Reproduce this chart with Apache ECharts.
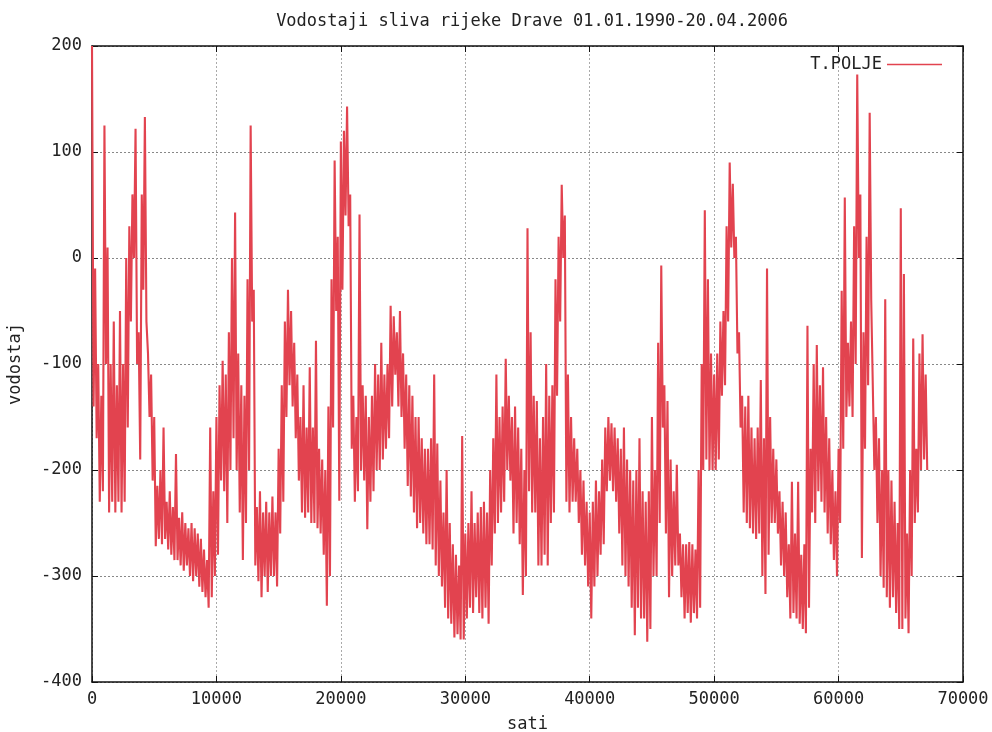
<!DOCTYPE html>
<html>
<head>
<meta charset="utf-8">
<script src="https://cdn.jsdelivr.net/npm/echarts@6/dist/echarts.min.js"></script>
<style>
  html, body { margin: 0; padding: 0; background: #fff; }
  #chart { width: 992px; height: 732px; }
</style>
</head>
<body>
<div id="chart"></div>
<script>
(function() {
  var chart = echarts.init(document.getElementById('chart'));

  // naslov i oznake
  var naslov = 'Vodostaji sliva rijeke Drave 01.01.1990-20.04.2006';
  var nazivSerije = 'T.POLJE';
  var osX = 'sati';
  var osY = 'vodostaj';

  // ocitano sa slike u koracima od 250 sati: najniza i najvisa vrijednost u koraku
  var korak = 250;

  var donja = [
    -140, -170, -230, -220,
    -100, -240, -230, -240,
    -230, -240, -230, -160,
    -60, 0, -100, -190,
    -30, -60, -150, -210,
    -272, -265, -270, -265,
    -275, -280, -285, -285,
    -290, -295, -290, -300,
    -305, -300, -310, -315,
    -320, -330, -320, -300,
    -280, -210, -220, -250,
    -200, -170, -200, -240,
    -285, -250, -200, -60,
    -290, -305, -320, -300,
    -315, -300, -300, -310,
    -260, -230, -150, -120,
    -140, -170, -210, -240,
    -245, -240, -250, -250,
    -255, -260, -280, -328,
    -300, -160, -50, -229,
    -30, 40, 30, -180,
    -230, -220, -200, -210,
    -256, -230, -220, -200,
    -200, -190, -180, -170,
    -140, -110, -140, -150,
    -180, -215, -225, -240,
    -255, -250, -260, -270,
    -270, -275, -290, -300,
    -310, -330, -340, -345,
    -358, -355, -360, -360,
    -340, -330, -335, -320,
    -335, -340, -330, -345,
    -290, -260, -250, -240,
    -230, -200, -210, -260,
    -250, -270, -318, -300,
    -220, -240, -240, -290,
    -290, -280, -290, -250,
    -240, -130, -60, 0,
    -230, -240, -230, -230,
    -250, -280, -290, -310,
    -340, -310, -300, -280,
    -270, -220, -210, -220,
    -230, -260, -290, -300,
    -310, -330, -356, -330,
    -340, -340, -362, -350,
    -300, -300, -250, -160,
    -260, -320, -300, -290,
    -290, -320, -340, -335,
    -344, -335, -340, -330,
    -200, -190, -200, -200,
    -200, -190, -130, -120,
    -60, 10, 0, -90,
    -160, -240, -250, -255,
    -260, -265, -260, -300,
    -317, -280, -250, -250,
    -260, -290, -300, -320,
    -340, -335, -340, -345,
    -350, -354, -330, -240,
    -250, -220, -230, -240,
    -260, -270, -285, -300,
    -250, -180, -150, -140,
    -150, -100, 0, -283,
    -180, -120, -40, -200,
    -250, -300, -311, -320,
    -330, -320, -335, -350,
    -350, -340, -354, -300,
    -250, -240, -200, -190,
    -200
  ];

  var gornja = [
    200, -10, -100, -130,
    125, 10, -100, -60,
    -120, -50, -100, 0,
    30, 60, 122, -70,
    60, 133, -90, -110,
    -150, -215, -200, -160,
    -230, -220, -235, -185,
    -245, -240, -250, -255,
    -250, -255, -260, -265,
    -275, -285, -160, -220,
    -150, -120, -97, -110,
    -70, 0, 43, -90,
    -120, -130, -20, 125,
    -30, -235, -220, -240,
    -230, -240, -225, -240,
    -180, -120, -60, -30,
    -50, -80, -110, -150,
    -120, -160, -103, -160,
    -78, -180, -190, -200,
    -140, -20, 92, 20,
    110, 120, 143, 60,
    -130, -150, 41, -120,
    -130, -150, -130, -100,
    -110, -80, -110, -100,
    -45, -55, -70, -50,
    -90, -110, -120, -130,
    -150, -150, -170, -180,
    -180, -170, -110, -175,
    -210, -240, -200, -250,
    -270, -280, -290, -168,
    -260, -250, -220, -250,
    -240, -235, -230, -240,
    -200, -170, -110, -150,
    -140, -95, -130, -150,
    -140, -160, -180, -200,
    28, -70, -130, -135,
    -170, -150, -100, -130,
    -120, -20, 20, 69,
    40, -110, -150, -170,
    -180, -200, -210, -230,
    -240, -230, -210, -220,
    -190, -160, -150, -156,
    -160, -170, -180, -160,
    -190, -200, -210, -200,
    -170, -220, -230, -220,
    -150, -200, -80, -7,
    -120, -135, -190, -220,
    -195, -260, -270, -270,
    -268, -270, -275, -200,
    -100, 45, -20, -90,
    -110, -90, -60, -50,
    30, 90, 70, 20,
    -70, -130, -140, -130,
    -160, -170, -160, -115,
    -170, -10, -150, -180,
    -190, -220, -230, -240,
    -270, -211, -260, -211,
    -280, -270, -64, -180,
    -100, -82, -120, -103,
    -150, -170, -200, -220,
    -180, -31, 57, -80,
    -60, 30, 173, 60,
    -70, 20, 137, -40,
    -150, -170, -200, -39,
    -200, -210, -230, -250,
    47, -15, -260, -200,
    -76, -180, -90, -72,
    -110
  ];

  // cik-cak izmedu najvise i najnize vrijednosti unutar svakog koraka
  var podaci = [];
  for (var i = 0; i < donja.length; i++) {
    podaci.push([i * korak, gornja[i]]);
    podaci.push([i * korak + korak / 2, donja[i]]);
  }

  var font = 'DejaVu Sans Mono';
  var boja = '#e2434f';
  var broj = function(v) { return String(v); };

  var option = {
    backgroundColor: '#fff',
    animation: false,
    title: {
      text: naslov,
      left: 527,
      textAlign: 'center',
      top: 8,
      textStyle: { fontFamily: font, fontSize: 17, fontWeight: 'normal', color: '#222' }
    },
    legend: {
      data: [nazivSerije],
      right: 45,
      top: 51,
      align: 'right',
      icon: 'rect',
      itemWidth: 55,
      itemHeight: 1.5,
      textStyle: { fontFamily: font, fontSize: 17, color: '#222' }
    },
    grid: { left: 92, right: 29, top: 46, bottom: 50, outerBoundsMode: 'none' },
    xAxis: [{
      type: 'value',
      min: 0, max: 70000, interval: 10000,
      name: osX,
      nameLocation: 'middle',
      nameGap: 34,
      nameTextStyle: { fontFamily: font, fontSize: 17, color: '#222' },
      axisLine: { onZero: false, lineStyle: { color: '#111', width: 1.5 } },
      axisTick: { inside: true, length: 6, lineStyle: { color: '#111' } },
      axisLabel: { fontFamily: font, fontSize: 17, color: '#222', margin: 9, formatter: broj },
      splitLine: { show: true, lineStyle: { color: '#aaa', width: 1, type: [2, 2] } }
    }, {
      type: 'value',
      position: 'top',
      min: 0, max: 70000, interval: 10000,
      axisLine: { show: true, onZero: false, lineStyle: { color: '#111', width: 1.5 } },
      axisTick: { show: true, inside: true, length: 6, lineStyle: { color: '#111' } },
      axisLabel: { show: false },
      splitLine: { show: false }
    }],
    yAxis: [{
      type: 'value',
      min: -400, max: 200, interval: 100,
      name: osY,
      nameLocation: 'middle',
      nameGap: 68,
      nameTextStyle: { fontFamily: font, fontSize: 17, color: '#222' },
      axisLine: { show: true, onZero: false, lineStyle: { color: '#111', width: 1.5 } },
      axisTick: { show: true, inside: true, length: 6, lineStyle: { color: '#111' } },
      axisLabel: { fontFamily: font, fontSize: 17, color: '#222', margin: 10, formatter: broj },
      splitLine: { show: true, lineStyle: { color: '#888', width: 1, type: [2, 2] } }
    }, {
      type: 'value',
      position: 'right',
      min: -400, max: 200, interval: 100,
      axisLine: { show: true, onZero: false, lineStyle: { color: '#111', width: 1.5 } },
      axisTick: { show: true, inside: true, length: 6, lineStyle: { color: '#111' } },
      axisLabel: { show: false },
      splitLine: { show: false }
    }],
    series: [{
      name: nazivSerije,
      type: 'line',
      data: podaci,
      showSymbol: false,
      sampling: null,
      color: boja,
      lineStyle: { color: boja, width: 2.1 }
    }]
  };

  chart.setOption(option);
  window.addEventListener('resize', function() {
    chart.resize();
  });
})();
</script>
</body>
</html>
